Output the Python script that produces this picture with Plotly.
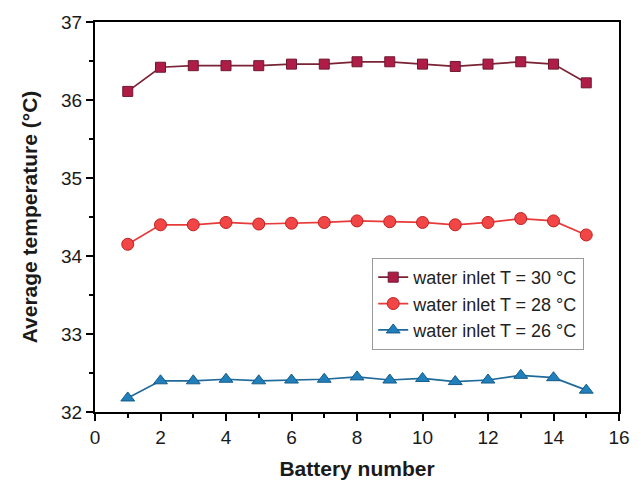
import plotly.graph_objects as go

battery = list(range(1, 16))
t30 = [36.11, 36.42, 36.44, 36.44, 36.44, 36.46, 36.46, 36.49, 36.49, 36.46, 36.43, 36.46, 36.49, 36.46, 36.22]
t28 = [34.15, 34.40, 34.40, 34.43, 34.41, 34.42, 34.43, 34.45, 34.44, 34.43, 34.40, 34.43, 34.48, 34.45, 34.27]
t26 = [32.18, 32.40, 32.40, 32.42, 32.40, 32.41, 32.42, 32.45, 32.41, 32.43, 32.39, 32.41, 32.47, 32.44, 32.28]
names = ["water inlet T = 30 °C", "water inlet T = 28 °C", "water inlet T = 26 °C"]

FONT = "Liberation Sans, Arial"

fig = go.Figure()
fig.add_trace(go.Scatter(x=battery, y=t30, name=names[0], mode="lines+markers",
                         line=dict(color="#7a2236", width=1.7),
                         marker=dict(symbol="square", size=10, color="#b01c48",
                                     line=dict(color="#6e1830", width=1))))
fig.add_trace(go.Scatter(x=battery, y=t28, name=names[1], mode="lines+markers",
                         line=dict(color="#e83a3a", width=1.7),
                         marker=dict(symbol="circle", size=12, color="#f24545",
                                     line=dict(color="#c02020", width=1))))
fig.add_trace(go.Scatter(x=battery, y=t26, name=names[2], mode="lines+markers",
                         line=dict(color="#1f6a9a", width=1.7),
                         marker=dict(symbol="triangle-up", size=12, color="#1f80bb",
                                     line=dict(color="#155a88", width=1))))

axis_common = dict(showline=True, linecolor="black", linewidth=2, mirror=True,
                   ticks="outside", ticklen=7, tickwidth=1.5, tickcolor="black",
                   showgrid=False, zeroline=False, automargin=False,
                   tickfont=dict(family=FONT, size=19, color="#1a1a1a"))

fig.update_xaxes(range=[0, 16], dtick=2, tick0=0,
                 minor=dict(ticks="outside", ticklen=4, tickwidth=1.5, tickcolor="black", dtick=1, tick0=0),
                 title=dict(text="Battery number", font=dict(family=FONT, size=21, color="#1a1a1a", weight="bold")),
                 **axis_common)
fig.update_yaxes(range=[32, 37], dtick=1, tick0=32,
                 minor=dict(ticks="outside", ticklen=4, tickwidth=1.5, tickcolor="black", dtick=0.5, tick0=32),
                 title=dict(text="Average temperature (°C)", font=dict(family=FONT, size=21, color="#1a1a1a", weight="bold"), standoff=18),
                 **axis_common)

# page body has an 8px default margin; size the figure so the plot lands where the reference has it
fig.update_layout(width=633, height=476,
                  margin=dict(l=87, r=22, t=14, b=72),
                  paper_bgcolor="white", plot_bgcolor="white",
                  legend=dict(x=0.529, y=0.395, xanchor="left", yanchor="top",
                              bordercolor="#999", borderwidth=1, bgcolor="white",
                              font=dict(family=FONT, size=18, color="#222"),
                              itemwidth=30))

fig.write_html("out.html")
